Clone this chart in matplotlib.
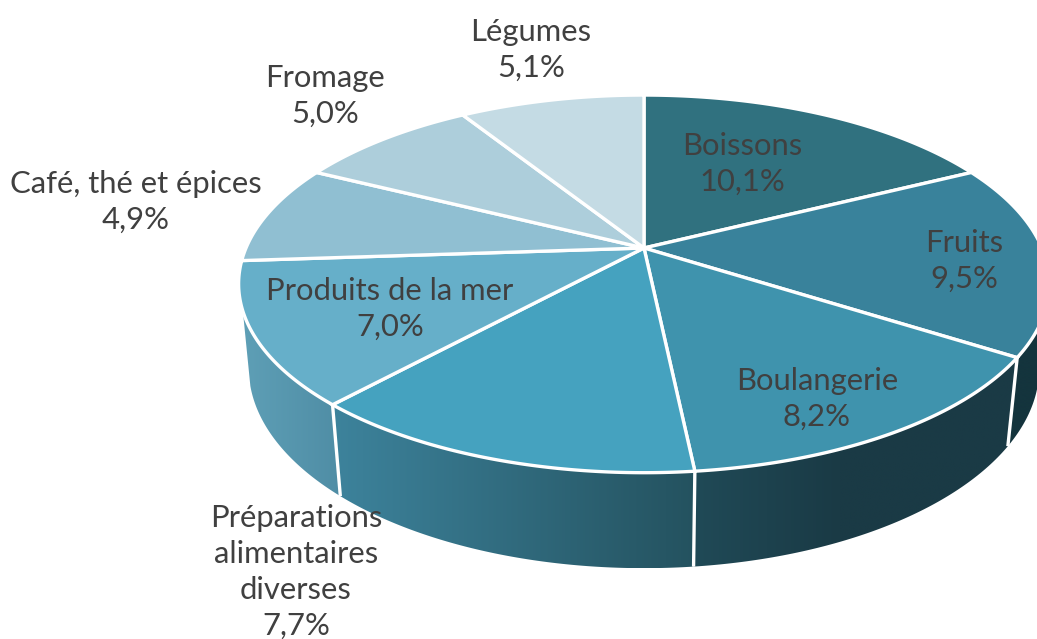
import numpy as np
import matplotlib
matplotlib.use("Agg")
import matplotlib.pyplot as plt
from matplotlib.patches import Polygon
from matplotlib.colors import to_rgb

# --- data
categories = ["Boissons", "Fruits", "Boulangerie", "Préparations\nalimentaires\ndiverses",
              "Produits de la mer", "Café, thé et épices", "Fromage", "Légumes"]
values = [10.1, 9.5, 8.2, 7.7, 7.0, 4.9, 5.0, 5.1]

# --- styles
top_colors = ["#30717f", "#39829b", "#3f93ad", "#45a2bf", "#66afc9", "#90bfd2", "#adcedb", "#c4dbe4"]
wall_colors = {1: ("#14343d", "#14343d"), 2: ("#204a57", "#1a3a45"),
               3: ("#3d839c", "#24525f"), 4: ("#5e9fb6", "#4f8da5")}
label_xy = [(742, 164), (964, 261), (817, 399), (296, 572), (390, 309), (136, 202), (325, 96), (531, 50)]
TXT = "#404040"

# --- projection of the disc
CX, CY, A, B, K = 644, 248, 398, 182, 0.19
CY2, SX2, SY2 = 330, 0.975, 1.06


def ring(theta_deg, lower=False):
    t = np.radians(theta_deg)
    X, Y = np.sin(t), np.cos(t)
    den = 1 + K * Y
    dx, dy = A * X / den, -B * Y / den
    if lower:
        return CX + SX2 * dx, CY2 + SY2 * dy
    return CX + dx, CY + dy


fig = plt.figure(figsize=(10.37, 6.39), dpi=100)
ax = fig.add_axes([0, 0, 1, 1])

edges = np.concatenate([[0], np.cumsum(values)]) / np.sum(values) * 360
# (start, end of top arc, end of bottom arc) where a wall is cut by the silhouette
WALL_LIMITS = {1: (96, edges[2], edges[2]), 4: (edges[4], 251, 254)}

for i, (c0, c1) in wall_colors.items():
    a0, a1, a2 = WALL_LIMITS.get(i, (edges[i], edges[i + 1], edges[i + 1]))
    xt, yt = ring(np.linspace(a0, a1, 80))
    xb, yb = ring(np.linspace(a0, a2, 80), True)
    pts = np.column_stack([np.r_[xt, xb[::-1]], np.r_[yt, yb[::-1]]])
    x0, x1 = pts[:, 0].min(), pts[:, 0].max()
    g = np.linspace(0, 1, 256)[:, None]
    if i == 2:  # dark plateau reached early on the Boulangerie side
        g = np.clip(g / 0.45, 0, 1)
    grad = (1 - g) * np.array(to_rgb(c0)) + g * np.array(to_rgb(c1))
    im = ax.imshow(grad[None, :, :], extent=(x0, x1, pts[:, 1].max(), pts[:, 1].min()),
                   aspect="auto", zorder=1, interpolation="bilinear")
    poly = Polygon(pts, closed=True, fc="none", ec="none", transform=ax.transData)
    ax.add_patch(poly)
    im.set_clip_path(poly)

# white seams on the side wall
for i in (2, 3, 4):
    xt, yt = ring(edges[i])
    xb, yb = ring(edges[i], True)
    ax.plot([xt, xb], [yt, yb], color="white", lw=2.4, zorder=2, solid_capstyle="butt")

# top surface
for i, col in enumerate(top_colors):
    th = np.linspace(edges[i], edges[i + 1], 120)
    xs, ys = ring(th)
    pts = np.column_stack([np.r_[CX, xs], np.r_[CY, ys]])
    ax.add_patch(Polygon(pts, closed=True, fc=col, ec="white", lw=2.4, zorder=3, joinstyle="miter"))

# labels
for name, val, (lx, ly) in zip(categories, values, label_xy):
    txt = f"{name}\n{val:.1f}%".replace(".", ",")
    ax.text(lx, ly, txt, ha="center", va="center", fontsize=22.3, color=TXT,
            family=["Lato", "DejaVu Sans"], linespacing=1.35, zorder=5)

ax.set_xlim(0, 1037)
ax.set_ylim(639, 0)
ax.axis("off")
fig.savefig("out.png", dpi=100)
